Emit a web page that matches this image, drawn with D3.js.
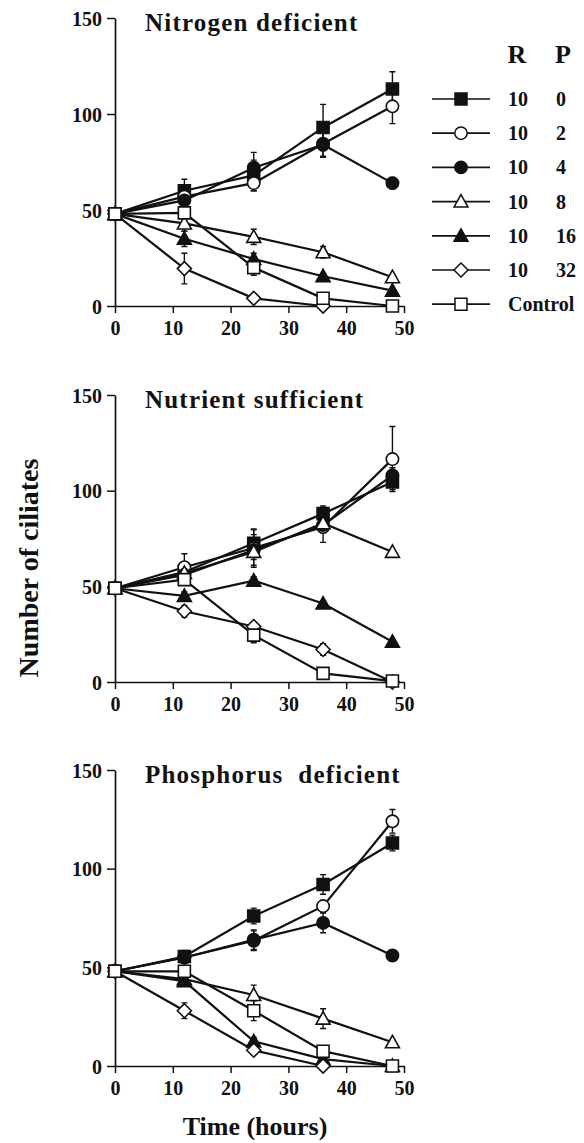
<!DOCTYPE html>
<html>
<head>
<meta charset="utf-8">
<script src="https://cdnjs.cloudflare.com/ajax/libs/d3/7.8.5/d3.min.js"></script>
<style>
  body { margin: 0; background: #fff; }
  svg { display: block; font-family: "Liberation Serif", "Times New Roman", serif; font-weight: bold; }
</style>
</head>
<body>
<svg id="chart" width="584" height="1143"></svg>
<script>
// sampling times (hours)
const hours = [0, 12, 24, 36, 48];

// series in legend order: R / P ratio, last is the control
const seriesR = ['10', '10', '10', '10', '10', '10', 'Control'];
const seriesP = ['0', '2', '4', '8', '16', '32', ''];
const seriesMarker = ['square', 'circle', 'circle', 'triangle', 'triangle', 'diamond', 'square'];
const seriesFilled = [true, false, true, false, true, false, false];

const panelTitles = ['Nitrogen deficient', 'Nutrient sufficient', 'Phosphorus  deficient'];
const xTicks = [0, 10, 20, 30, 40, 50];
const yTicks = [0, 50, 100, 150];

// mean number of ciliates, one row per series (null = not sampled)
const nitrogenMeans = [
    [48, 60, 68, 93, 113],
    [48, 57, 64, 84.5, 104],
    [48, 55, 72, 84, 64],
    [48, 43, 36, 28, 15],
    [48, 35, 24.5, 15.5, 8],
    [48, 19.5, 4, 0, null],
    [48, 48.5, 20, 4, 0]
];
const nitrogenErrors = [
    [0, 6, 8, 12, 9],
    [0, 4, 4, 7, 9],
    [0, 4, 8, 6, 3],
    [0, 4, 4, 3, 1],
    [0, 4, 3, 1, 1],
    [0, 8, 1, 0, 0],
    [0, 2, 4, 1, 0]
];

const sufficientMeans = [
    [49, 57.5, 72.5, 88, 104.5],
    [49, 60, 70, 81, 116.5],
    [49, 56, 69, 82, 108],
    [49, 57, 68, 83, 68],
    [49, 45, 53, 41, 21],
    [49, 37, 29, 17, 0],
    [49, 53.5, 24.5, 4.5, 0.5]
];
const sufficientErrors = [
    [0, 3, 7, 4, 4],
    [0, 7, 10, 8, 17],
    [0, 4, 8, 4, 4],
    [0, 3, 4, 3, 1],
    [0, 2, 2, 1, 1],
    [0, 3, 2, 3, 0],
    [0, 3, 4, 1, 0]
];

const phosphorusMeans = [
    [48, 55.5, 76, 92, 113],
    [48, 55, 63.5, 81, 124],
    [48, 55, 64, 72.5, 56],
    [48, 44, 36, 24, 12],
    [48, 43, 12.5, 3.5, 0],
    [48, 28, 8, 0, null],
    [48, 48, 28, 7.5, 0]
];
const phosphorusErrors = [
    [0, 3, 4, 5, 4],
    [0, 3, 5, 3, 6],
    [0, 3, 5, 5, 1],
    [0, 2, 5, 5, 1],
    [0, 2, 2, 1, 0],
    [0, 4, 1, 0, 0],
    [0, 2, 5, 1, 0]
];

const panelMeans = [nitrogenMeans, sufficientMeans, phosphorusMeans];
const panelErrors = [nitrogenErrors, sufficientErrors, phosphorusErrors];

// vertical placement of each panel (y of 150 and y of 0)
const panelBox = [
    {top: 18, bottom: 306},
    {top: 395, bottom: 682},
    {top: 770, bottom: 1066}
];

const svg = d3.select('#chart');
const x = d3.scaleLinear().domain([0, 50]).range([115, 404]);

function markerPath(type) {
    if (type === 'square') return 'M-6,-6H6V6H-6Z';
    if (type === 'circle') return d3.symbol(d3.symbolCircle, 120)();
    if (type === 'triangle') return 'M0,-7L7,5.5L-7,5.5Z';
    if (type === 'diamond') return 'M0,-7L7,0L0,7L-7,0Z';
}

panelMeans.forEach(function(means, p) {
    const box = panelBox[p];
    const y = d3.scaleLinear().domain([0, 150]).range([box.bottom, box.top]);
    const g = svg.append('g');

    // axes
    const xAxis = g.append('g')
        .attr('transform', 'translate(0,' + box.bottom + ')')
        .call(d3.axisBottom(x).tickValues(xTicks).tickSizeInner(7).tickSizeOuter(0).tickPadding(4));
    const yAxis = g.append('g')
        .attr('transform', 'translate(115,0)')
        .call(d3.axisLeft(y).tickValues(yTicks).tickSizeInner(8).tickSizeOuter(0).tickPadding(5));
    [xAxis, yAxis].forEach(function(a) {
        a.select('.domain').attr('stroke', '#111').attr('stroke-width', 1.7);
        a.selectAll('.tick line').attr('stroke', '#111').attr('stroke-width', 1.5);
        a.selectAll('.tick text')
            .attr('fill', '#111')
            .style('font-size', '20px')
            .style('font-family', '"Liberation Serif", "Times New Roman", serif')
            .style('font-weight', 'bold');
    });
    xAxis.selectAll('.tick text').attr('dy', '0.9em');
    yAxis.selectAll('.tick text').attr('dy', '0.35em');

    g.append('text')
        .attr('x', 145)
        .attr('y', box.top + 13)
        .attr('fill', '#111')
        .style('font-size', '25px')
        .style('letter-spacing', '1.2px')
        .style('white-space', 'pre')
        .text(panelTitles[p]);

    const line = d3.line()
        .defined(function(d) { return d[1] !== null; })
        .x(function(d) { return x(d[0]); })
        .y(function(d) { return y(d[1]); });

    // connecting lines
    means.forEach(function(vals) {
        g.append('path')
            .datum(hours.map(function(h, i) { return [h, vals[i]]; }))
            .attr('d', line)
            .attr('fill', 'none')
            .attr('stroke', '#111')
            .attr('stroke-width', 2.2);
    });

    // error bars
    means.forEach(function(vals, s) {
        const errs = panelErrors[p][s];
        hours.forEach(function(h, i) {
            if (vals[i] === null || !errs[i]) return;
            const cx = x(h), y1 = y(vals[i] + errs[i]), y2 = y(Math.max(0, vals[i] - errs[i]));
            g.append('path')
                .attr('d', 'M' + cx + ',' + y1 + 'V' + y2 + 'M' + (cx - 3) + ',' + y1 + 'H' + (cx + 3) + 'M' + (cx - 3) + ',' + y2 + 'H' + (cx + 3))
                .attr('fill', 'none')
                .attr('stroke', '#111')
                .attr('stroke-width', 1.4);
        });
    });

    // markers
    means.forEach(function(vals, s) {
        g.selectAll(null)
            .data(hours.map(function(h, i) { return [h, vals[i]]; }).filter(function(d) { return d[1] !== null; }))
            .enter()
            .append('path')
            .attr('transform', function(d) { return 'translate(' + x(d[0]) + ',' + y(d[1]) + ')'; })
            .attr('d', markerPath(seriesMarker[s]))
            .attr('fill', seriesFilled[s] ? '#111' : '#fff')
            .attr('stroke', '#111')
            .attr('stroke-width', 1.6);
    });
});

// axis titles
svg.append('text')
    .attr('transform', 'translate(38,568) rotate(-90)')
    .attr('text-anchor', 'middle')
    .attr('fill', '#111')
    .style('font-size', '28px')
    .text('Number of ciliates');

svg.append('text')
    .attr('x', 255)
    .attr('y', 1135)
    .attr('text-anchor', 'middle')
    .attr('fill', '#111')
    .style('font-size', '26px')
    .text('Time (hours)');

// legend
const legend = svg.append('g');
legend.append('text').attr('x', 517).attr('y', 63).attr('text-anchor', 'middle').style('font-size', '26px').attr('fill', '#111').text('R');
legend.append('text').attr('x', 563).attr('y', 63).attr('text-anchor', 'middle').style('font-size', '26px').attr('fill', '#111').text('P');

const rows = legend.selectAll('g.row')
    .data(seriesR)
    .enter()
    .append('g')
    .attr('class', 'row')
    .attr('transform', function(d, i) { return 'translate(0,' + (99 + i * 34.2) + ')'; });

rows.append('path')
    .attr('d', 'M432,0H490')
    .attr('stroke', '#111')
    .attr('stroke-width', 1.7);
rows.append('path')
    .attr('transform', 'translate(461,0)')
    .attr('d', function(d, i) { return markerPath(seriesMarker[i]); })
    .attr('fill', function(d, i) { return seriesFilled[i] ? '#111' : '#fff'; })
    .attr('stroke', '#111')
    .attr('stroke-width', 1.5);
rows.append('text')
    .attr('x', 508)
    .attr('y', 7)
    .attr('fill', '#111')
    .style('font-size', '20px')
    .text(function(d) { return d; });
rows.append('text')
    .attr('x', 556)
    .attr('y', 7)
    .attr('fill', '#111')
    .style('font-size', '20px')
    .text(function(d, i) { return seriesP[i]; });
</script>
</body>
</html>
